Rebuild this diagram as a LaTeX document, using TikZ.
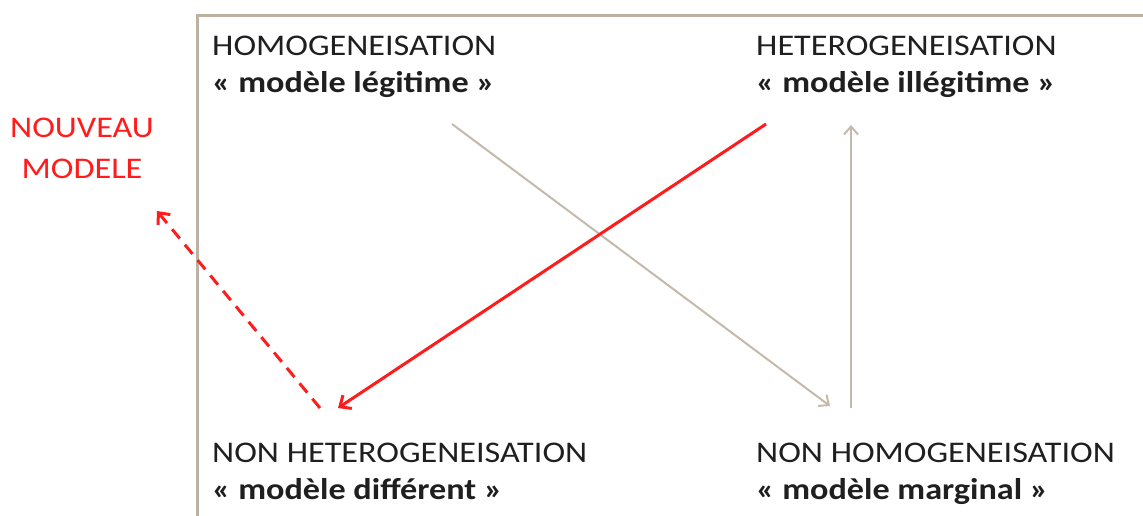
\documentclass[tikz,border=0pt]{standalone}
\usepackage{fontspec}
\setmainfont[FakeStretch=1.14]{Carlito}
\usetikzlibrary{arrows.meta}
\definecolor{frameTan}{RGB}{189,178,162}
\definecolor{arrowTan}{RGB}{196,186,172}
\definecolor{newRed}{RGB}{255,28,28}
\def\quadFont{\fontsize{30}{37}\selectfont}
\tikzset{
  quad/.style={anchor=north west, inner sep=0pt, align=left, font=\quadFont, text=black!88},
  newlabel/.style={inner sep=0pt, align=center, font=\fontsize{30}{41}\selectfont, text=newRed},
  tanarrow/.style={draw=arrowTan, line width=2pt, -{Straight Barb[length=8pt,width=14pt]}},
  redarrow/.style={draw=newRed, line width=3pt, -{Straight Barb[length=9pt,width=16pt]}},
}
\begin{document}
\begin{tikzpicture}[x=1pt,y=-1pt]
\useasboundingbox (0,0) rectangle (1143,515);
\draw [frameTan, line width=3pt] (1145,15) -- (197,15) -- (197,517);

\node [quad] (homo) at (212,36) {HOMOGENEISATION\\\textbf{« modèle légitime »}};
\node [quad] (hetero) at (756,36) {HETEROGENEISATION\\\textbf{« modèle illégitime »}};
\node [quad] (nonhetero) at (212,443) {NON HETEROGENEISATION\\\textbf{« modèle différent »}};
\node [quad] (nonhomo) at (756,443) {NON HOMOGENEISATION\\\textbf{« modèle marginal »}};
\node [newlabel] (nouveau) at (82,148) {NOUVEAU\\MODELE};

\coordinate (homoOut) at (452,124);
\coordinate (nonhomoIn) at (830,406);
\coordinate (nonhomoOut) at (851,408);
\coordinate (heteroIn) at (851,125);
\coordinate (heteroOut) at (766,124);
\coordinate (nonheteroIn) at (338,408);
\coordinate (nonheteroOut) at (320,408);
\coordinate (nouveauIn) at (157,211);

\draw [tanarrow] (homoOut) -- (nonhomoIn);
\draw [tanarrow] (nonhomoOut) -- (heteroIn);
\draw [redarrow] (heteroOut) -- (nonheteroIn);
\draw [redarrow, dash pattern=on 12pt off 8pt] (nonheteroOut) -- (nouveauIn);
\end{tikzpicture}
\end{document}
